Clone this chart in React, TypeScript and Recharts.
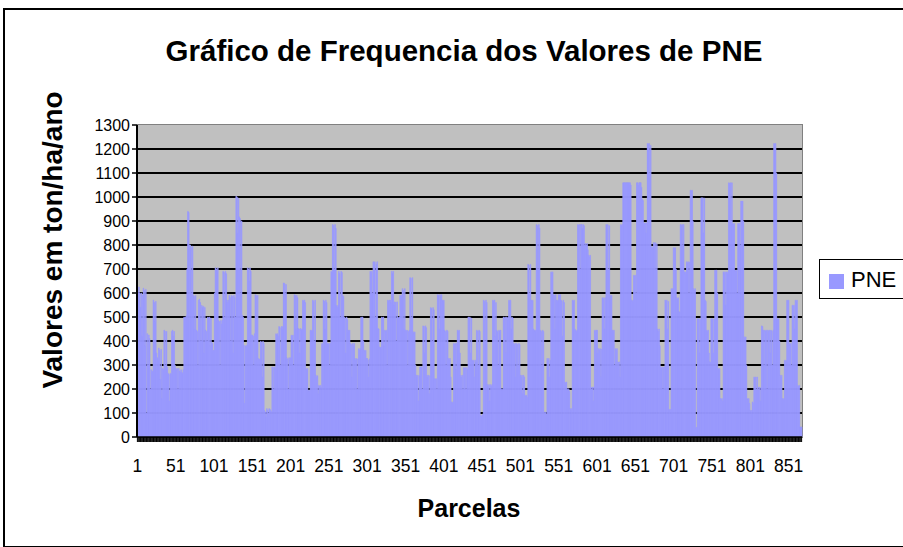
import { Bar, BarChart, CartesianGrid, XAxis, YAxis } from 'recharts';

// valores de PNE, em blocos de 50 parcelas
const pne001 = [615, 600, 625, 600, 540, 600, 420, 590, 620, 610, 380, 615, 100, 430, 300, 425, 410, 200, 280, 270, 275, 570, 560, 480, 565, 350, 330, 320, 370, 360, 240, 365, 160, 285, 280, 445, 440, 300, 440, 290, 265, 260, 150, 265, 260, 440, 445, 420, 440, 300];
const pne051 = [287, 280, 285, 200, 285, 275, 270, 280, 270, 265, 280, 500, 495, 500, 505, 700, 940, 935, 800, 800, 790, 600, 795, 590, 585, 450, 590, 445, 440, 300, 570, 575, 560, 400, 548, 540, 545, 350, 540, 445, 440, 400, 500, 495, 500, 380, 495, 395, 390, 360];
const pne101 = [360, 600, 705, 700, 690, 705, 485, 480, 300, 485, 470, 485, 690, 685, 500, 690, 680, 570, 560, 570, 590, 580, 400, 590, 585, 350, 590, 580, 500, 1003, 1000, 850, 995, 917, 910, 600, 900, 507, 500, 382, 140, 380, 375, 382, 705, 700, 650, 705, 690, 425];
const pne151 = [425, 420, 300, 430, 593, 590, 500, 590, 327, 320, 325, 399, 395, 250, 399, 390, 110, 104, 83, 118, 110, 100, 118, 115, 110, 105, 292, 290, 200, 292, 285, 430, 425, 430, 420, 460, 455, 300, 460, 450, 460, 642, 640, 600, 635, 330, 325, 200, 330, 320];
const pne201 = [330, 424, 420, 424, 300, 593, 590, 450, 590, 580, 452, 450, 350, 452, 445, 450, 570, 565, 570, 560, 285, 280, 285, 195, 190, 195, 445, 440, 445, 570, 565, 400, 570, 257, 250, 255, 180, 215, 210, 215, 205, 390, 385, 570, 565, 450, 570, 560, 390, 385];
const pne251 = [390, 300, 390, 690, 685, 885, 880, 700, 885, 870, 548, 540, 548, 690, 680, 500, 690, 685, 590, 585, 500, 495, 350, 500, 490, 445, 440, 445, 390, 385, 250, 390, 380, 390, 327, 320, 327, 200, 325, 368, 360, 368, 500, 495, 500, 400, 361, 355, 361, 327];
const pne301 = [327, 320, 250, 325, 690, 685, 690, 600, 730, 725, 730, 500, 720, 730, 452, 450, 375, 370, 375, 500, 495, 500, 380, 445, 440, 445, 300, 570, 565, 570, 570, 560, 690, 680, 690, 550, 563, 560, 400, 563, 500, 495, 500, 590, 585, 590, 618, 610, 450, 618];
const pne351 = [445, 440, 445, 300, 440, 445, 664, 660, 500, 664, 438, 430, 438, 300, 257, 250, 257, 150, 255, 292, 290, 292, 200, 463, 460, 350, 463, 455, 257, 250, 257, 180, 255, 539, 535, 400, 539, 530, 243, 240, 243, 200, 593, 590, 450, 593, 585, 593, 570, 565];
const pne401 = [570, 445, 440, 300, 445, 440, 327, 320, 327, 250, 146, 140, 146, 390, 385, 390, 280, 390, 445, 440, 445, 350, 257, 250, 257, 200, 289, 285, 289, 200, 289, 280, 500, 495, 500, 350, 495, 320, 315, 320, 250, 320, 310, 445, 440, 300, 445, 440, 90, 85];
const pne451 = [90, 95, 570, 565, 400, 570, 560, 218, 210, 218, 150, 218, 210, 218, 570, 565, 570, 420, 560, 445, 440, 300, 445, 440, 445, 201, 195, 201, 500, 495, 500, 350, 500, 495, 500, 570, 565, 570, 450, 500, 495, 390, 385, 390, 250, 390, 385, 300, 390, 385];
const pne501 = [257, 250, 257, 180, 257, 250, 174, 170, 174, 165, 719, 715, 600, 719, 570, 565, 570, 450, 445, 440, 445, 885, 880, 700, 885, 870, 445, 440, 300, 445, 440, 104, 100, 104, 95, 327, 320, 327, 250, 320, 688, 680, 688, 593, 590, 450, 593, 570, 565, 570];
const pne551 = [593, 590, 593, 570, 565, 420, 570, 560, 229, 225, 229, 201, 195, 201, 190, 118, 110, 118, 570, 565, 570, 450, 445, 440, 445, 885, 880, 885, 700, 885, 885, 870, 885, 880, 800, 806, 800, 806, 780, 757, 750, 757, 208, 200, 208, 150, 208, 445, 440, 445];
const pne601 = [445, 350, 368, 360, 368, 250, 365, 580, 575, 580, 450, 580, 885, 880, 885, 700, 880, 590, 585, 590, 445, 440, 445, 300, 368, 360, 368, 313, 310, 313, 250, 885, 880, 885, 1059, 1059, 1059, 1059, 1059, 1059, 1059, 1059, 1059, 1059, 1050, 570, 565, 570, 674, 670];
const pne651 = [674, 600, 1059, 1059, 1050, 1059, 1059, 1059, 1040, 990, 985, 892, 890, 892, 850, 892, 1223, 1220, 1223, 1100, 1215, 792, 785, 792, 810, 805, 810, 700, 805, 450, 440, 450, 380, 292, 285, 292, 200, 290, 292, 570, 565, 570, 450, 565, 115, 110, 115, 618, 610, 618];
const pne701 = [789, 785, 789, 700, 580, 575, 580, 521, 521, 885, 880, 885, 800, 885, 688, 680, 688, 730, 725, 730, 600, 728, 1028, 1025, 1028, 900, 618, 610, 618, 35, 40, 493, 490, 493, 350, 490, 997, 990, 997, 850, 995, 570, 565, 445, 440, 445, 350, 313, 310, 493];
const pne751 = [490, 493, 350, 490, 695, 690, 695, 600, 285, 280, 285, 160, 155, 160, 150, 688, 680, 688, 550, 688, 680, 688, 1059, 1055, 1059, 900, 1059, 890, 885, 890, 695, 690, 695, 600, 890, 885, 890, 800, 983, 980, 983, 900, 417, 410, 417, 300, 160, 155, 160, 140];
const pne801 = [111, 105, 111, 146, 140, 250, 245, 250, 200, 250, 208, 200, 208, 150, 205, 463, 460, 445, 300, 445, 440, 445, 200, 445, 440, 445, 350, 445, 440, 300, 445, 1223, 1220, 1223, 1100, 493, 490, 493, 400, 257, 250, 257, 160, 155, 160, 320, 315, 320, 570, 565];
const pne851 = [570, 390, 385, 390, 300, 549, 545, 549, 450, 570, 565, 570, 215, 210, 215, 42, 40, 42];

const yTicks = [0, 100, 200, 300, 400, 500, 600, 700, 800, 900, 1000, 1100, 1200, 1300];
const gridValues = [100, 200, 300, 400, 500, 600, 700, 800, 900, 1000, 1100, 1200];

const pne = [
  ...pne001, ...pne051, ...pne101, ...pne151, ...pne201, ...pne251,
  ...pne301, ...pne351, ...pne401, ...pne451, ...pne501, ...pne551,
  ...pne601, ...pne651, ...pne701, ...pne751, ...pne801, ...pne851,
];

const data = pne.map((v, i) => ({ parcela: i + 1, PNE: v }));

const FONT = 'Arial, "Liberation Sans", sans-serif';
const BAR_COLOR = '#9999FF';

// só mostra rótulo a cada 50 parcelas, mas desenha o traço de todas
function XTick(props: any) {
  const { x, y, payload } = props;
  if (payload.index % 50 !== 0) return <g />;
  return (
    <text x={x} y={y + 28} textAnchor="middle" fontSize={17.5} fontFamily={FONT} fill="#000">
      {payload.value}
    </text>
  );
}

export default function App() {
  return (
    <div style={{ position: 'absolute', left: 0, top: 0, width: 903, height: 547, overflow: 'hidden', background: '#fff' }}>
      {/* moldura do gráfico */}
      <div style={{ position: 'absolute', left: 3, top: 8, width: 910, height: 536, border: '2px solid #000' }} />
      {/* fundo cinza da área de plotagem */}
      <div style={{ position: 'absolute', left: 137, top: 124, width: 664, height: 312, background: '#C0C0C0', border: '1px solid #808080' }} />

      <div style={{ position: 'absolute', left: 0, top: 0 }}>
        <BarChart
          width={903}
          height={547}
          data={data}
          margin={{ top: 125, right: 101, left: 77, bottom: 70 }}
          barCategoryGap={0}
          barGap={0}
        >
          <CartesianGrid stroke="#000" strokeWidth={1.8} vertical={false} horizontalValues={gridValues} />
          <XAxis
            dataKey="parcela"
            interval={0}
            tick={<XTick />}
            tickSize={5}
            tickLine={{ stroke: '#000' }}
            axisLine={{ stroke: '#000', strokeWidth: 1.5 }}
            height={40}
          />
          <YAxis
            domain={[0, 1300]}
            ticks={yTicks}
            interval={0}
            width={60}
            tickSize={5}
            tickLine={{ stroke: '#000', strokeWidth: 1.5 }}
            axisLine={{ stroke: '#000', strokeWidth: 2 }}
            tick={{ fontSize: 16, fill: '#000', fontFamily: FONT }}
          />
          <Bar dataKey="PNE" fill={BAR_COLOR} stroke={BAR_COLOR} strokeWidth={0.6} isAnimationActive={false} />
        </BarChart>
      </div>

      <svg width={903} height={547} style={{ position: 'absolute', left: 0, top: 0, pointerEvents: 'none' }}>
        <text x={464} y={61} textAnchor="middle" fontSize={29.5} fontWeight="bold" fontFamily={FONT} fill="#000">
          Gráfico de Frequencia dos Valores de PNE
        </text>
        <text
          transform="translate(62, 240) rotate(-90)"
          textAnchor="middle"
          fontSize={28}
          fontWeight="bold"
          fontFamily={FONT}
          fill="#000"
        >
          Valores em ton/ha/ano
        </text>
        <text x={469} y={517} textAnchor="middle" fontSize={25} fontWeight="bold" fontFamily={FONT} fill="#000">
          Parcelas
        </text>
      </svg>

      {/* legenda */}
      <div
        style={{
          position: 'absolute',
          left: 819,
          top: 259,
          width: 100,
          height: 38,
          border: '1.5px solid #000',
          background: '#fff',
          fontFamily: FONT,
        }}
      >
        <div style={{ position: 'absolute', left: 9, top: 14, width: 15, height: 15, background: BAR_COLOR }} />
        <div style={{ position: 'absolute', left: 31, top: 7, fontSize: 22, lineHeight: '26px', color: '#000' }}>PNE</div>
      </div>
    </div>
  );
}
